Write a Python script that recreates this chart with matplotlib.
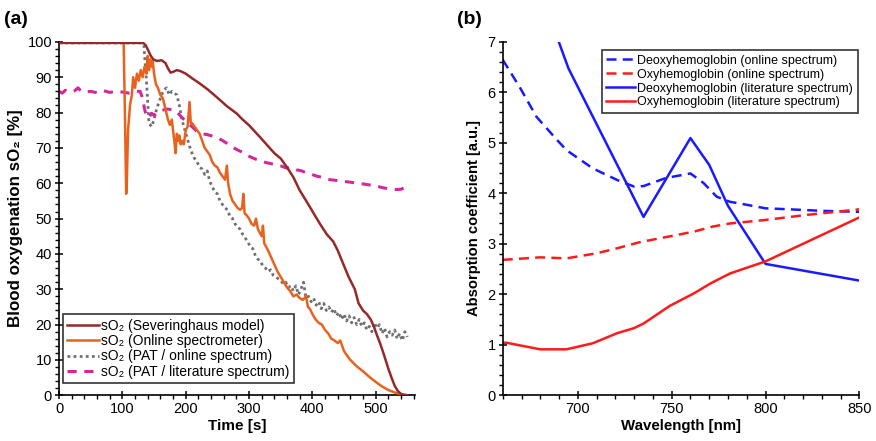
import matplotlib
matplotlib.use("Agg")
import matplotlib.pyplot as plt
from matplotlib.ticker import MultipleLocator

plt.rcParams['font.family'] = ['Liberation Sans', 'DejaVu Sans']

# (a) sO2 over time
sev_t = [0, 133, 137, 141, 145, 149, 155, 162, 168, 172,
         176, 180, 186, 192, 200, 210, 220, 235, 250, 265,
         280, 290, 300, 315, 330, 340, 350, 360, 370, 380,
         392, 402, 412, 423, 433, 440, 448, 457, 467, 473,
         480, 486, 492, 497, 502, 507, 513, 520, 525, 530,
         535, 540, 545, 550]
sev_so2 = [99.7, 99.7, 99, 97.5, 96, 95, 94.6, 94.8, 94, 92.5,
           91.3, 91.5, 92, 91.7, 91, 89.7, 88.5, 86.5, 84.2, 81.8,
           79.8, 78, 76.4, 73.5, 70.5, 68.5, 67, 64.5, 61.7, 58,
           54.5, 51.5, 48.5, 45.5, 43.5, 41, 37.5, 33.6, 30, 26,
           24, 23, 21.5, 19.5, 17, 14.7, 11.5, 7.5, 5, 2.7,
           1.2, 0.4, 0.1, 0]

spec_t = [0, 102, 104, 106, 107, 109, 112, 115, 117, 120,
          123, 126, 129, 132, 135, 138, 140, 142, 144, 146,
          148, 150, 153, 156, 160, 164, 168, 172, 175, 178,
          180, 182, 184, 186, 188, 190, 192, 194, 197, 200,
          203, 206, 208, 210, 214, 218, 222, 226, 230, 234,
          238, 242, 246, 250, 254, 258, 262, 265, 267, 270,
          274, 278, 282, 286, 289, 291, 293, 296, 300, 304,
          308, 311, 314, 317, 320, 322, 324, 327, 330, 335,
          340, 345, 350, 355, 360, 365, 370, 375, 380, 385,
          390, 393, 396, 400, 405, 410, 415, 420, 425, 430,
          435, 440, 444, 447, 450, 455, 460, 470, 480, 490,
          500, 510, 520, 530, 540, 548]
spec_so2 = [99.8, 99.8, 80, 57, 60, 75, 82, 85, 90, 87,
            91, 89, 92, 90, 93, 91, 96, 92, 95, 93,
            94.5, 91, 88, 87, 85, 84, 81, 78, 76.5, 78,
            75, 72, 68.5, 74, 72, 73.5, 71, 72, 71, 75,
            76, 83, 77, 77, 76, 75, 74, 72, 70, 69,
            68, 66, 65, 64.5, 63, 62, 61, 65, 60, 57,
            55, 54, 53, 52.5, 53, 57, 51.5, 51, 50, 48.5,
            48, 50, 47, 46, 45, 48, 43, 42, 41, 39,
            37, 35, 33.5, 32, 30.5, 29.5, 28, 28.5, 27.5, 27,
            28, 25, 24.5, 23, 21.5, 20.5, 20, 18.5, 17.5, 16,
            15.5, 14.8, 15.5, 14, 12.5, 11.2, 10, 8.2, 6.8, 5.2,
            3.8, 2.5, 1.5, 0.8, 0.3, 0.1]

pat_on_t = [0, 130,
            134, 138, 142, 146, 150, 154, 158, 162, 166, 170,
            174, 178, 182, 186, 190, 194, 198, 202, 206, 210,
            214, 218, 222, 226, 230, 234, 238, 242, 246, 250,
            254, 258, 262, 266, 270, 274, 278, 282, 286, 290,
            294, 298, 302, 306, 310, 314, 318, 322, 326, 330,
            334, 338, 342, 346, 350, 354, 358, 362, 366, 370,
            374, 378, 382, 386, 390, 394, 398, 402, 406, 410,
            414, 418, 422, 426, 430, 434, 438, 442, 446, 450,
            454, 458, 462, 466, 470, 474, 478, 482, 486, 490,
            494, 498, 502, 506, 510, 514, 518, 522, 526, 530,
            534, 538, 542, 546, 550]
pat_on_so2 = [99.7, 99.7,
              99, 89, 77, 76, 78, 81, 83, 85, 86.5, 87,
              85, 86, 85.5, 85, 82, 78, 75.5, 73, 70.5, 68.5,
              67, 66, 64.5, 64, 62.5, 63.5, 60.5, 59, 57.5, 57,
              55, 54, 53, 52.5, 50.5, 50, 48.5, 47.5, 47, 45.5,
              44.5, 43.5, 42, 41.5, 39.5, 38.5, 38, 36.5, 36, 35,
              35.5, 34, 33.5, 33, 32.5, 31.5, 32, 30.5, 31, 29.5,
              31, 28.5, 30, 32, 27.5, 28, 26.5, 27.5, 25.5, 26.5,
              24.5, 26, 24, 25, 23.5, 24.5, 22.5, 23.5, 21.5, 23,
              21, 22.5, 20.5, 22, 20, 21.5, 19.5, 20.5, 18.5, 19.5,
              18, 20.5, 19, 20, 17.5, 19, 16.5, 18, 17, 18.5,
              16, 17.5, 15.5, 18, 16.5]

pat_lit_t = [0, 5, 10, 15, 20, 25, 30, 35, 40, 50,
             60, 70, 80, 90, 100, 110, 120, 128, 132, 135,
             138, 142, 146, 150, 155, 160, 170, 180, 186, 192,
             200, 210, 217, 225, 233, 241, 249, 257, 265, 273,
             281, 289, 296, 304, 312, 320, 328, 336, 344, 352,
             359, 367, 375, 383, 391, 399, 407, 417, 428, 438,
             449, 460, 470, 480, 491, 501, 512, 522, 533, 540,
             546, 548]
pat_lit_so2 = [86, 85.5, 86.3, 85.8, 86, 86.2, 87, 86, 85.8, 86,
               85.6, 86.2, 85.7, 86, 85.8, 85.5, 86, 86, 84, 81,
               79, 78.5, 79.8, 79.2, 80, 80.5, 81, 80.8, 80.2, 79,
               77.5, 76, 74.8, 74, 73.8, 73.4, 73, 72.2, 71.3, 70.3,
               69.5, 68.8, 68, 67.3, 66.7, 66.2, 65.8, 65.5, 65, 64.8,
               64.3, 64.5, 63.8, 63.5, 62.9, 62.5, 62, 61.6, 61, 60.8,
               60.5, 60.3, 60, 59.8, 59.5, 59.2, 58.7, 58.4, 58.2, 58.3,
               58.8, 58.2]

labels_a = ['sO₂ (Severinghaus model)', 'sO₂ (Online spectrometer)',
            'sO₂ (PAT / online spectrum)', 'sO₂ (PAT / literature spectrum)']

# (b) absorption spectra
deoxy_on_wl = [660, 669, 678, 689, 694, 708, 721, 730, 735, 747, 760, 767, 774, 781, 790, 800, 813, 830, 850]
deoxy_on = [6.64, 6.1, 5.51, 5.05, 4.85, 4.49, 4.26, 4.13, 4.14, 4.3, 4.39, 4.2, 3.93, 3.83, 3.77, 3.7, 3.68, 3.65, 3.63]

oxy_on_wl = [660, 680, 694, 710, 721, 733, 751, 762, 772, 781, 800, 822, 850]
oxy_on = [2.68, 2.73, 2.71, 2.81, 2.91, 3.03, 3.16, 3.24, 3.34, 3.4, 3.47, 3.57, 3.68]

deoxy_lit_wl = [680, 695, 735, 760, 770, 780, 800, 850]
deoxy_lit = [8.0, 6.47, 3.53, 5.09, 4.56, 3.75, 2.6, 2.27]

oxy_lit_wl = [660, 662, 680, 694, 708, 721, 730, 735, 749, 762, 771, 781, 800, 850]
oxy_lit = [1.04, 1.04, 0.91, 0.91, 1.03, 1.23, 1.33, 1.42, 1.77, 2.02, 2.22, 2.41, 2.65, 3.52]

labels_b = ['Deoxyhemoglobin (online spectrum)', 'Oxyhemoglobin (online spectrum)',
            'Deoxyhemoglobin (literature spectrum)', 'Oxyhemoglobin (literature spectrum)']

fig = plt.figure(figsize=(8.76, 4.41), dpi=100)
ax1 = fig.add_axes([0.0674, 0.1036, 0.4063, 0.8015])
ax2 = fig.add_axes([0.5739, 0.1036, 0.4071, 0.8022])

ax1.plot(sev_t, sev_so2, color='#962a2a', lw=1.8, label=labels_a[0], zorder=4)
ax1.plot(spec_t, spec_so2, color='#e8621e', lw=1.8, label=labels_a[1], zorder=3)
ax1.plot(pat_on_t, pat_on_so2, color='#707070', lw=2, ls=(0, (1, 1.2)), label=labels_a[2], zorder=2)
ax1.plot(pat_lit_t, pat_lit_so2, color='#d4279e', lw=2.2, ls=(0, (3, 2.5)), label=labels_a[3], zorder=2)
ax1.set_xlim(0, 562)
ax1.set_ylim(0, 100)
ax1.xaxis.set_major_locator(MultipleLocator(100))
ax1.xaxis.set_minor_locator(MultipleLocator(20))
ax1.yaxis.set_major_locator(MultipleLocator(10))
ax1.yaxis.set_minor_locator(MultipleLocator(2))
ax1.set_xlabel('Time [s]', fontsize=11, fontweight='bold', labelpad=2)
ax1.set_ylabel('Blood oxygenation sO₂ [%]', fontsize=12.2, fontweight='bold', labelpad=3)
leg1 = ax1.legend(loc='lower left', bbox_to_anchor=(0.01, 0.035), fontsize=10, handlelength=2.3,
                  handletextpad=0.2, borderpad=0.3, labelspacing=0.1, borderaxespad=0,
                  fancybox=False, framealpha=1, edgecolor='#333333')
leg1.get_frame().set_linewidth(1.2)

ax2.plot(deoxy_on_wl, deoxy_on, color='#1a1aff', lw=1.8, ls=(0, (4, 2.5)), label=labels_b[0])
ax2.plot(oxy_on_wl, oxy_on, color='#ff1a1a', lw=1.8, ls=(0, (4, 2.5)), label=labels_b[1])
ax2.plot(deoxy_lit_wl, deoxy_lit, color='#1a1aff', lw=1.8, label=labels_b[2])
ax2.plot(oxy_lit_wl, oxy_lit, color='#ff1a1a', lw=1.8, label=labels_b[3])
ax2.set_xlim(660, 850)
ax2.set_ylim(0, 7)
ax2.set_xticks([700, 750, 800, 850])
ax2.xaxis.set_minor_locator(MultipleLocator(10))
ax2.yaxis.set_major_locator(MultipleLocator(1))
ax2.yaxis.set_minor_locator(MultipleLocator(0.2))
ax2.set_xlabel('Wavelength [nm]', fontsize=10.8, fontweight='bold', labelpad=2)
ax2.set_ylabel('Absorption coefficient [a.u.]', fontsize=10.6, fontweight='bold', labelpad=5)
leg2 = ax2.legend(loc='upper right', bbox_to_anchor=(0.995, 0.975), fontsize=9, handlelength=2.3,
                  handletextpad=0.2, borderpad=0.35, labelspacing=0.15, borderaxespad=0,
                  fancybox=False, framealpha=1, edgecolor='#333333')
leg2.get_frame().set_linewidth(1.2)

for ax in (ax1, ax2):
    ax.spines['top'].set_visible(False)
    ax.spines['right'].set_visible(False)
    ax.spines['left'].set_linewidth(1.2)
    ax.spines['bottom'].set_linewidth(1.2)
    ax.tick_params(which='major', direction='inout', length=6, width=1.1, labelsize=10.5, pad=2)
    ax.tick_params(which='minor', direction='out', length=3, width=1)

fig.text(0.004, 0.975, '(a)', fontsize=14, fontweight='bold', va='top')
fig.text(0.522, 0.975, '(b)', fontsize=14, fontweight='bold', va='top')

fig.savefig('out.png', dpi=100)
